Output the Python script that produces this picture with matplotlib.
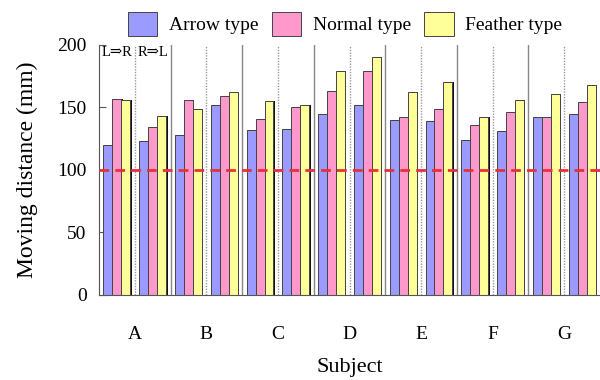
import matplotlib.pyplot as plt
import numpy as np

plt.rcParams['font.family'] = ['Liberation Serif', 'DejaVu Serif']

subjects = ['A', 'B', 'C', 'D', 'E', 'F', 'G']
series_names = ['Arrow type', 'Normal type', 'Feather type']
directions = ['L⇒R', 'R⇒L']

# moving distance (mm), [subject][L=>R, R=>L]
arrow = [[120, 123], [128, 152], [132, 133], [145, 152], [140, 139], [124, 131], [142, 145]]
normal = [[157, 134], [156, 159], [141, 150], [163, 179], [142, 149], [136, 146], [142, 154]]
feather = [[156, 143], [149, 162], [155, 152], [179, 190], [162, 170], [142, 156], [161, 168]]
reference_line = 100

colors = ['#9a9aff', '#ff99cc', '#ffff99']


def main():
    fig = plt.figure(figsize=(6, 3.8), dpi=100)
    ax = fig.add_axes([0.165, 0.2237, 0.835, 0.658])

    width = 0.125
    data = [np.array(arrow), np.array(normal), np.array(feather)]
    n = len(subjects)
    handles = []
    for h in range(2):
        base = np.arange(n) + 0.5 * h + 0.25
        for k, vals in enumerate(data):
            x = base + (k - 1) * width
            ax.bar(x + 0.02, vals[:, h], width=width, color='#111111', zorder=1)
            b = ax.bar(x, vals[:, h], width=width, color=colors[k],
                       edgecolor='#444444', linewidth=0.7, zorder=2,
                       label=series_names[k])
            if h == 0:
                handles.append(b)

    for i in range(1, n):
        ax.axvline(i, color='#888888', linewidth=1.0, zorder=0)
    for i in range(n):
        ax.axvline(i + 0.5, color='#999999', linewidth=1.0, linestyle=(0, (1, 1)), zorder=0)

    ax.axhline(reference_line, color='#e8303a', linewidth=2.0, linestyle=(0, (3.5, 2.2)), zorder=3)

    ax.text(0.25, 199, directions[0], ha='center', va='top', fontsize=10.5)
    ax.text(0.75, 199, directions[1], ha='center', va='top', fontsize=10.5)

    ax.set_xlim(0, n)
    ax.set_ylim(0, 200)
    ax.set_yticks([0, 50, 100, 150, 200])
    ax.set_xticks(np.arange(n) + 0.5)
    ax.set_xticklabels(subjects)
    ax.tick_params(axis='x', length=0, pad=22, labelsize=14)
    ax.tick_params(axis='y', direction='in', length=5, labelsize=14, pad=9, color='#555555')
    for s in ['top', 'right']:
        ax.spines[s].set_visible(False)
    for s in ['left', 'bottom']:
        ax.spines[s].set_color('#555555')
    ax.set_xlabel('Subject', fontsize=16, labelpad=11)
    ax.set_ylabel('Moving distance (mm)', fontsize=17, labelpad=14)

    fig.legend(handles=handles, labels=series_names, loc='upper center',
               bbox_to_anchor=(0.575, 1.015), ncol=3, frameon=False, fontsize=14,
               handlelength=1.5, handleheight=1.5, columnspacing=0.7, handletextpad=0.6)

    fig.savefig('out.png', dpi=100)
    plt.close(fig)


if __name__ == '__main__':
    main()
